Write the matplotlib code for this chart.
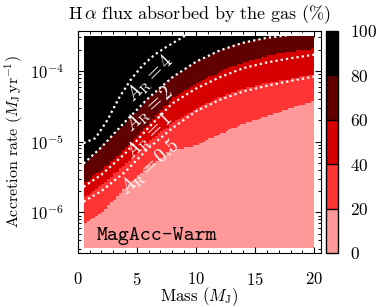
import matplotlib

matplotlib.use("Agg")
import matplotlib.pyplot as plt
import numpy as np
from matplotlib.colors import BoundaryNorm, ListedColormap
from matplotlib.ticker import MultipleLocator

plt.rcParams["font.family"] = "serif"
plt.rcParams["font.serif"] = ["cmr10"]
plt.rcParams["mathtext.fontset"] = "cm"
plt.rcParams["axes.formatter.use_mathtext"] = True
plt.rcParams["axes.unicode_minus"] = False

# boundaries of the absorbed-fraction levels, log10(accretion rate) vs mass
MASS_PTS = [0.5, 2, 4, 6, 8, 10, 12, 14, 16, 18, 20]
LOG_B20 = [-6.15, -6.01, -5.66, -5.34, -5.12, -5.05, -4.89, -4.75, -4.64, -4.52, -4.43]
LOG_B40 = [-5.79, -5.62, -5.33, -5.00, -4.74, -4.53, -4.37, -4.25, -4.17, -4.11, -4.05]
LOG_B60 = [-5.59, -5.41, -5.11, -4.74, -4.40, -4.18, -4.01, -3.88, -3.79, -3.72, -3.68]
LOG_B80 = [-5.31, -5.08, -4.75, -4.38, -4.09, -3.87, -3.71, -3.60, -3.53, -3.49, -3.46]
LEVELS = [0, 20, 40, 60, 80, 100]
LEVEL_COLORS = ["#ff9999", "#ff3535", "#d60000", "#600000", "#000000"]

# A_R contours (dotted)
AR_LABELS = ["4", "2", "1", "0.5"]
AR_MASS = {
    "4": [0.5, 1.5, 2.5, 3.5, 4.5, 5.5, 6.5, 7.5, 8.5, 9.3],
    "2": MASS_PTS,
    "1": MASS_PTS,
    "0.5": MASS_PTS,
}
AR_LOG = {
    "4": [-5.02, -4.95, -4.70, -4.38, -4.12, -3.92, -3.77, -3.66, -3.56, -3.48],
    "2": [-5.31, -5.08, -4.72, -4.38, -4.09, -3.87, -3.71, -3.60, -3.53, -3.49, -3.46],
    "1": [-5.64, -5.47, -5.17, -4.80, -4.46, -4.25, -4.09, -3.96, -3.88, -3.82, -3.77],
    "0.5": [-5.85, -5.70, -5.43, -5.09, -4.81, -4.57, -4.41, -4.29, -4.21, -4.14, -4.08],
}
AR_TEXT_POS = {"4": (6.1, -4.11), "2": (6.1, -4.54), "1": (6.1, -4.92), "0.5": (6.1, -5.37)}
AR_TEXT_ROT = {"4": 45, "2": 42, "1": 44, "0.5": 42}

# grid of the model
mass_edges = np.arange(0.5, 20.01, 0.25)
log_edges = np.arange(-6.5, -3.499, 0.025)
mass_c = 0.5 * (mass_edges[1:] + mass_edges[:-1])
log_c = 0.5 * (log_edges[1:] + log_edges[:-1])

field = np.zeros((len(log_c), len(mass_c)))
for j, m in enumerate(mass_c):
    bounds = [np.interp(m, MASS_PTS, b) for b in (LOG_B20, LOG_B40, LOG_B60, LOG_B80)]
    field[:, j] = np.interp(log_c, bounds, [20, 40, 60, 80], left=10, right=90)

cmap = ListedColormap(LEVEL_COLORS)
norm = BoundaryNorm(LEVELS, cmap.N)

fig = plt.figure(figsize=(3.91, 3.07), dpi=100)
ax = fig.add_axes([0.1987, 0.1759, 0.6215, 0.7241])
cax = fig.add_axes([0.834, 0.1759, 0.031, 0.7241])

mesh = ax.pcolormesh(mass_edges, 10**log_edges, field, cmap=cmap, norm=norm,
                     shading="flat", rasterized=True)

for key in AR_LABELS:
    ax.plot(AR_MASS[key], 10**np.array(AR_LOG[key]), color="white",
            linestyle=(0, (1, 1.4)), linewidth=1.6)
    x, y = AR_TEXT_POS[key]
    ax.text(x, 10**y, r"$A_{\rm R}=%s$" % key, color="white", fontsize=14,
            rotation=AR_TEXT_ROT[key], ha="center", va="center",
            rotation_mode="anchor")

ax.text(0.078, 0.058, "MagAcc-Warm", family="cmtt10", fontsize=15,
        transform=ax.transAxes, ha="left", va="baseline")

ax.set_yscale("log")
ax.set_xlim(0, 20.55)
ax.set_ylim(10**-6.576, 10**-3.43)
ax.xaxis.set_major_locator(MultipleLocator(5))
ax.xaxis.set_minor_locator(MultipleLocator(1))
ax.tick_params(which="both", direction="in", top=True, right=True,
               labelsize=12)
ax.tick_params(which="major", length=4.5, width=0.8)
ax.tick_params(which="minor", length=2.5, width=0.7)
ax.tick_params(axis="x", which="major", pad=13)
ax.tick_params(axis="y", which="major", pad=10)
ax.set_xlabel(r"Mass ($M_{\rm J}$)", fontsize=12)
ax.set_ylabel(r"Accretion rate ($M_{\rm J}\,{\rm yr}^{-1}$)", fontsize=11.5)
ax.xaxis.set_label_coords(0.5, -0.147)
ax.yaxis.set_label_coords(-0.217, 0.5)
ax.set_title(r"H$\,\alpha$ flux absorbed by the gas (%)", fontsize=13, pad=8)

cb = fig.colorbar(mesh, cax=cax, ticks=LEVELS, drawedges=True)
cb.outline.set_linewidth(1.0)
cb.dividers.set_linewidth(1.0)
cax.tick_params(length=0, pad=8.5, labelsize=12.5)

fig.savefig("out.png", dpi=100)
